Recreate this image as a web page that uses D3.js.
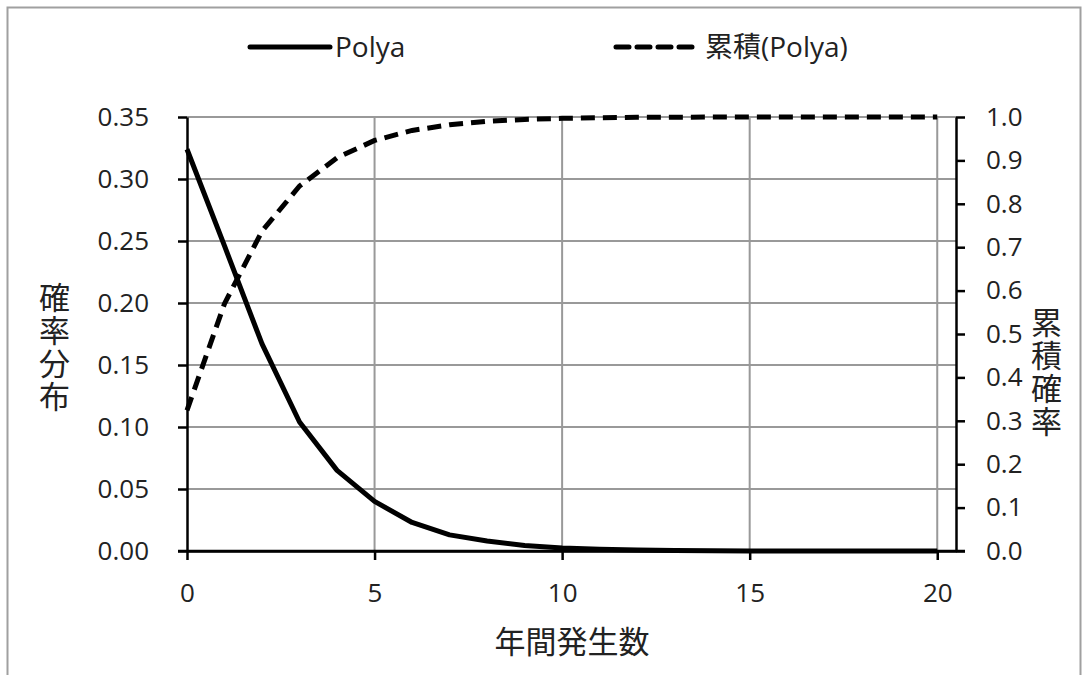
<!DOCTYPE html>
<html>
<head>
<meta charset="utf-8">
<script src="https://cdn.jsdelivr.net/npm/d3@7"></script>
<style>
  html, body { margin: 0; padding: 0; background: #fff; }
  svg text { font-family: "Open Sans", "Noto Sans CJK JP", sans-serif; fill: #222; }
</style>
</head>
<body>
<div id="chart"></div>
<script>
// values
const counts = [0, 1, 2, 3, 4, 5, 6, 7, 8, 9, 10, 11, 12, 13, 14, 15, 16, 17, 18, 19, 20];
const polya = [0.324, 0.246, 0.167, 0.104, 0.065, 0.040, 0.023, 0.013, 0.008, 0.0045,
               0.0025, 0.0014, 0.0008, 0.0004, 0.0002, 0.0001, 0.00005, 0.00003, 0.00002, 0.00001, 0.00001];
const polyaCum = [0.324, 0.570, 0.737, 0.841, 0.906, 0.946, 0.969, 0.982, 0.990, 0.9945,
                  0.997, 0.9984, 0.9992, 0.9996, 0.9998, 0.9999, 1.0, 1.0, 1.0, 1.0, 1.0];
const xTicks = [0, 5, 10, 15, 20];
const leftTicks = [0, 0.05, 0.10, 0.15, 0.20, 0.25, 0.30, 0.35];
const rightTicks = [0, 0.1, 0.2, 0.3, 0.4, 0.5, 0.6, 0.7, 0.8, 0.9, 1.0];
const seriesNames = ['Polya', '累積(Polya)'];
const xTitle = '年間発生数';
const leftTitle = '確率分布';
const rightTitle = '累積確率';

const width = 1088, height = 675;
const plot = { left: 187, right: 956, top: 117, bottom: 551 };

const svg = d3.select('#chart').append('svg')
    .attr('width', width)
    .attr('height', height);

// outer frame
svg.append('path')
    .attr('d', `M7.5,${height + 5} V7.5 H1080.5 V${height + 5}`)
    .attr('fill', 'none')
    .attr('stroke', '#a0a0a0')
    .attr('stroke-width', 2);

const x = d3.scaleLinear().domain([0, 20.5]).range([plot.left, plot.right]);
const yL = d3.scaleLinear().domain([0, 0.35]).range([plot.bottom, plot.top]);
const yR = d3.scaleLinear().domain([0, 1]).range([plot.bottom, plot.top]);

// gridlines
const grid = svg.append('g').attr('stroke', '#999').attr('stroke-width', 2);
grid.selectAll('.hg')
    .data(leftTicks.filter(d => d > 0))
    .enter().append('line')
    .attr('x1', plot.left).attr('x2', plot.right)
    .attr('y1', d => yL(d)).attr('y2', d => yL(d));
grid.selectAll('.vg')
    .data(xTicks.filter(d => d > 0))
    .enter().append('line')
    .attr('x1', d => x(d)).attr('x2', d => x(d))
    .attr('y1', plot.top).attr('y2', plot.bottom);

// axes
const fmt2 = d3.format('.2f'), fmt1 = d3.format('.1f');

const xAxis = svg.append('g')
    .attr('transform', `translate(0,${plot.bottom})`)
    .call(d3.axisBottom(x).tickValues(xTicks).tickSize(9).tickPadding(24).tickSizeOuter(0));

const leftAxis = svg.append('g')
    .attr('transform', `translate(${plot.left},0)`)
    .call(d3.axisLeft(yL).tickValues(leftTicks).tickFormat(fmt2).tickSize(9).tickPadding(29).tickSizeOuter(0));

const rightAxis = svg.append('g')
    .attr('transform', `translate(${plot.right},0)`)
    .call(d3.axisRight(yR).tickValues(rightTicks).tickFormat(fmt1).tickSize(9).tickPadding(21).tickSizeOuter(0));

[xAxis, leftAxis, rightAxis].forEach(a => {
    a.selectAll('path').attr('stroke', '#000').attr('stroke-width', 2.5);
    a.selectAll('line').attr('stroke', '#000').attr('stroke-width', 2.5);
    a.selectAll('text')
        .attr('font-size', 26)
        .attr('fill', '#222')
        .style('font-family', '"Open Sans", sans-serif');
});

// x axis baseline runs across the tick marks on both sides
svg.append('line')
    .attr('x1', plot.left - 9).attr('x2', plot.right + 9)
    .attr('y1', plot.bottom).attr('y2', plot.bottom)
    .attr('stroke', '#000').attr('stroke-width', 2.5);

// series
const lineL = d3.line().x((d, i) => x(counts[i])).y(d => yL(d));
const lineR = d3.line().x((d, i) => x(counts[i])).y(d => yR(d));

svg.append('path')
    .datum(polyaCum)
    .attr('d', lineR)
    .attr('fill', 'none')
    .attr('stroke', '#000')
    .attr('stroke-width', 5)
    .attr('stroke-dasharray', '14,8');

svg.append('path')
    .datum(polya)
    .attr('d', lineL)
    .attr('fill', 'none')
    .attr('stroke', '#000')
    .attr('stroke-width', 5)
    .attr('stroke-linejoin', 'round');

// legend
const legend = svg.append('g');
const legendItems = [
    { name: seriesNames[0], x0: 250, x1: 330, dash: null },
    { name: seriesNames[1], x0: 616, x1: 700, dash: '13,8' }
];
legendItems.forEach(it => {
    legend.append('line')
        .attr('x1', it.x0).attr('x2', it.x1)
        .attr('y1', 47).attr('y2', 47)
        .attr('stroke', '#000')
        .attr('stroke-width', 5)
        .attr('stroke-linecap', 'round')
        .attr('stroke-dasharray', it.dash);
    legend.append('text')
        .attr('x', it.x1 + 5)
        .attr('y', 47)
        .attr('dy', '0.35em')
        .attr('font-size', 28)
        .text(it.name);
});

// axis titles
svg.append('text')
    .attr('x', (plot.left + plot.right) / 2 + 0.5)
    .attr('y', 642)
    .attr('dy', '0.35em')
    .attr('text-anchor', 'middle')
    .attr('font-size', 31)
    .text(xTitle);

function verticalTitle(str, cx, top) {
    svg.append('text')
        .attr('x', cx)
        .attr('y', top)
        .attr('font-size', 31)
        .attr('letter-spacing', 2)
        .style('writing-mode', 'vertical-rl')
        .style('text-orientation', 'upright')
        .text(str);
}
verticalTitle(leftTitle, 53, 282);
verticalTitle(rightTitle, 1045, 307);
</script>
</body>
</html>
